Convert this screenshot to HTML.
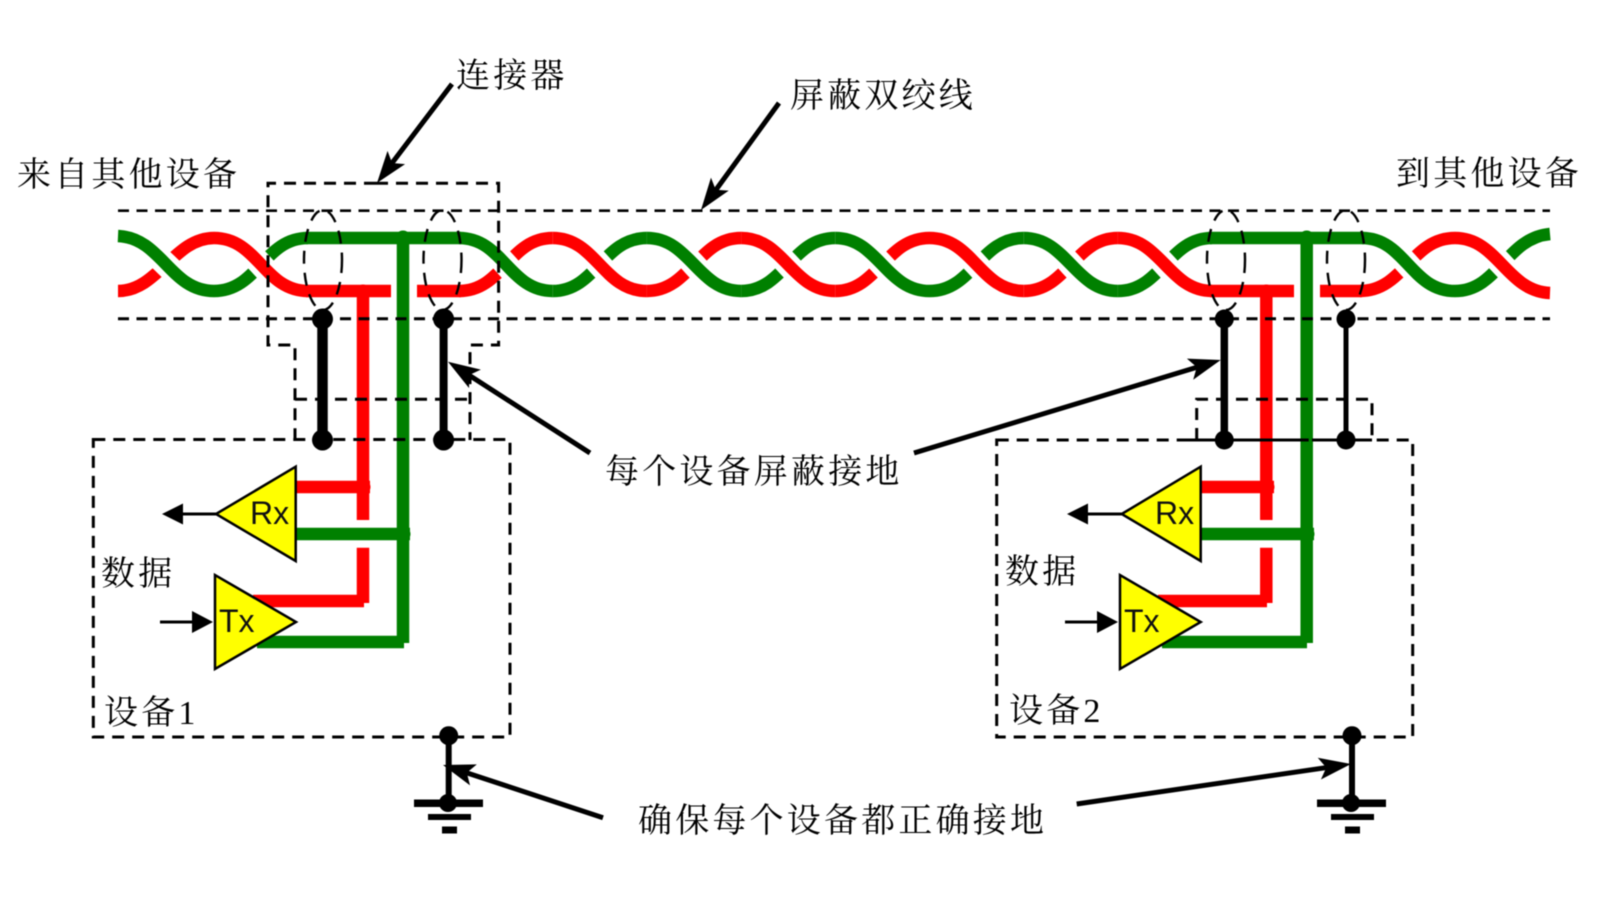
<!DOCTYPE html>
<html><head><meta charset="utf-8"><style>
html,body{margin:0;padding:0;background:#fff;width:1616px;height:903px;overflow:hidden}
svg{display:block;filter:blur(.55px)}
text.c{font-family:"Liberation Serif","Noto Serif CJK SC",serif;font-size:34px;letter-spacing:3.2px;fill:#000}
text.s{font-family:"Liberation Sans",sans-serif;font-size:32px;fill:#111}
.w{fill:none;stroke-width:12.5}
.r{stroke:#f00}.g{stroke:#008000}
.cas{fill:none;stroke:#fff;stroke-width:24}
.d{fill:none;stroke:#000;stroke-width:3;stroke-dasharray:12 8}
.d2{fill:none;stroke:#000;stroke-width:2.6;stroke-dasharray:11 7.5}
.e{fill:none;stroke:#000;stroke-width:2.4;stroke-dasharray:13 9}
.t{fill:#ff0;stroke:#000;stroke-width:2.5;stroke-linejoin:miter}
</style></head><body>
<svg width="1616" height="903" viewBox="0 0 1616 903" xmlns="http://www.w3.org/2000/svg">
<defs><polygon id="h" points="0,0 -32,-11 -25,0 -32,11" fill="#000"/></defs>
<rect width="1616" height="903" fill="#fff"/>

<!-- rising (under) segments -->
<g class="w">
<path class="w r" d="M118 291C158 291 174 238 214 238"/>
<path class="w g" d="M214 291C258 291 264 238 308 238"/>
<path class="w r" d="M459 291C503 291 509 238 552.7 238"/>
<path class="w g" d="M552.7 291C596 291 603 238 646.9 238"/>
<path class="w r" d="M646.9 291C690 291 698 238 741.1 238"/>
<path class="w g" d="M741.1 291C784 291 792 238 835.3 238"/>
<path class="w r" d="M835.3 291C878 291 886 238 929.5 238"/>
<path class="w g" d="M929.5 291C973 291 980 238 1023.7 238"/>
<path class="w r" d="M1023.7 291C1067 291 1075 238 1117.9 238"/>
<path class="w g" d="M1117.9 291C1161 291 1169 238 1212 238"/>
<path class="w r" d="M1360 291C1404 291 1411 238 1455 238"/>
<path class="w g" d="M1455 291C1498 291 1506 238 1550 234"/>
</g>
<!-- white casing around descending segments -->
<g>
<path class="cas" d="M124 240C158 240 174 289 208 289"/>
<path class="cas" d="M220 240C258 240 264 289 302 289"/>
<path class="cas" d="M465 240C503 240 509 289 546 289"/>
<path class="cas" d="M559 240C596 240 603 289 640 289"/>
<path class="cas" d="M653 240C690 240 698 289 734 289"/>
<path class="cas" d="M747 240C784 240 792 289 829 289"/>
<path class="cas" d="M841 240C878 240 886 289 923 289"/>
<path class="cas" d="M935 240C973 240 980 289 1017 289"/>
<path class="cas" d="M1030 240C1067 240 1075 289 1111 289"/>
<path class="cas" d="M1124 240C1161 240 1169 289 1205 289"/>
<path class="cas" d="M1368 240C1404 240 1411 289 1449 289"/>
<path class="cas" d="M1461 240C1498 240 1506 289 1544 289"/>
</g>
<!-- descending (over) segments -->
<g>
<path class="w g" d="M118 236C162 238 170 291 214 291"/>
<path class="w r" d="M214 238C258 238 264 291 308 291"/>
<path class="w g" d="M459 238C503 238 509 291 552.7 291"/>
<path class="w r" d="M552.7 238C596 238 603 291 646.9 291"/>
<path class="w g" d="M646.9 238C690 238 698 291 741.1 291"/>
<path class="w r" d="M741.1 238C784 238 792 291 835.3 291"/>
<path class="w g" d="M835.3 238C878 238 886 291 929.5 291"/>
<path class="w r" d="M929.5 238C973 238 980 291 1023.7 291"/>
<path class="w g" d="M1023.7 238C1067 238 1075 291 1117.9 291"/>
<path class="w r" d="M1117.9 238C1161 238 1169 291 1212 291"/>
<path class="w g" d="M1362 238C1405 238 1411 291 1455 291"/>
<path class="w r" d="M1455 238C1498 238 1506 291 1550 293"/>
</g>

<!-- flats -->
<path class="w r" d="M306 291H391M417 291H461"/>
<path class="w g" d="M306 238H461"/>
<path class="w r" d="M1210 291H1294M1320 291H1362"/>
<path class="w g" d="M1210 238H1364"/>

<!-- device 1 wires -->
<path class="w r" style="stroke-width:12.5" d="M363 291V520M363 547.7V603M253 601H364M296 487H370"/>
<path class="w g" style="stroke-width:12.5" d="M403 238V643M257 642H404M296 534H410"/>
<circle cx="363" cy="291" r="6.5" fill="#f00"/><circle cx="403" cy="238" r="7.5" fill="#008000"/>
<circle cx="364" cy="487" r="6.5" fill="#f00"/><circle cx="404" cy="534" r="6.5" fill="#008000"/>

<!-- device 2 wires -->
<path class="w r" style="stroke-width:12.5" d="M1266.3 291V520M1266.3 547.7V603M1158 601H1267M1201 487H1274"/>
<path class="w g" style="stroke-width:12.5" d="M1306.7 238V643M1162 642H1307M1201 534H1314"/>
<circle cx="1266.3" cy="291" r="6.5" fill="#f00"/><circle cx="1306.7" cy="238" r="7.5" fill="#008000"/>
<circle cx="1268" cy="487" r="6.5" fill="#f00"/><circle cx="1308" cy="534" r="6.5" fill="#008000"/>

<!-- dashed cable shield -->
<path class="d2" d="M118 210.7H1550"/>
<path class="d2" style="stroke-width:3" d="M118 318.7H1550"/>
<!-- connector outline -->
<path class="d" d="M376 183.3H498.6V345H470V440M376 183.3H268V345H295V440"/>
<path class="d" d="M295 399.3H470"/>
<!-- device boxes -->
<rect class="d" x="93.3" y="439.5" width="416.7" height="297.5"/>
<rect class="d" x="996.7" y="440" width="416" height="297"/>
<path class="d" d="M1196.7 440V399.3H1372V440"/>
<path d="M1183 440H1305" stroke="#000" stroke-width="3"/><path d="M1312 440H1372" stroke="#000" stroke-width="3"/>

<!-- ellipses -->
<ellipse class="e" cx="323" cy="260" rx="19" ry="50"/>
<ellipse class="e" cx="442.5" cy="260" rx="19" ry="50"/>
<ellipse class="e" cx="1226" cy="260" rx="19" ry="50"/>
<ellipse class="e" cx="1346" cy="260" rx="19" ry="50"/>

<!-- black shield drains -->
<path d="M322.5 319V440" stroke="#000" stroke-width="10.5"/>
<path d="M443.6 319V440" stroke="#000" stroke-width="8"/>
<path d="M1224.3 319V440" stroke="#000" stroke-width="7.5"/>
<path d="M1346 319V440" stroke="#000" stroke-width="5"/>
<g fill="#000">
<circle cx="322.5" cy="319" r="10.5"/><circle cx="322.5" cy="440" r="10.5"/>
<circle cx="443.6" cy="319" r="10.5"/><circle cx="443.6" cy="440" r="10.5"/>
<circle cx="1224.3" cy="319" r="9.5"/><circle cx="1224.3" cy="440" r="9.5"/>
<circle cx="1346" cy="319" r="9.5"/><circle cx="1346" cy="440" r="9.5"/>
</g>

<!-- triangles -->
<polygon class="t" points="216,514 295.7,466.7 295.7,561"/>
<polygon class="t" points="215,575 215,669 296,622"/>
<polygon class="t" points="1121.7,514 1200.7,466.7 1200.7,561"/>
<polygon class="t" points="1120,575 1120,669 1200.7,622"/>
<text class="s" x="250" y="524">Rx</text>
<text class="s" x="219" y="632">Tx</text>
<text class="s" x="1155" y="524">Rx</text>
<text class="s" x="1124" y="632">Tx</text>

<!-- data arrows -->
<path d="M216 514H180M160 622H195M1121.7 514H1085M1065 622H1100" stroke="#000" stroke-width="3"/>
<polygon points="162,514 183,503.5 183,524.5"/>
<polygon points="213,622 192,611 192,633"/>
<polygon points="1067,514 1088,503.5 1088,524.5"/>
<polygon points="1118,622 1097,611 1097,633"/>

<!-- grounds -->
<g fill="#000">
<path d="M448.7 736V803" stroke="#000" stroke-width="6"/>
<circle cx="448.7" cy="735.7" r="9.5"/><circle cx="448" cy="803" r="9"/>
<rect x="414" y="799.5" width="69" height="7.5"/><rect x="428" y="814" width="43" height="6"/><rect x="442" y="826.5" width="15" height="7"/>
<path d="M1352 736V803" stroke="#000" stroke-width="6"/>
<circle cx="1352" cy="735.7" r="9.5"/><circle cx="1351" cy="803" r="9"/>
<rect x="1317" y="799.5" width="69" height="7.5"/><rect x="1331" y="814" width="43" height="6"/><rect x="1345" y="826.5" width="15" height="7"/>
</g>

<!-- callout arrows -->
<g stroke="#000" stroke-width="5">
<path d="M452 84L386 171"/>
<path d="M779 103L710 198"/>
<path d="M590 453L461 370"/>
<path d="M914 453L1206 364.5"/>
<path d="M603 817.7L457 769.6"/>
<path d="M1076.7 804L1336 766.2"/>
</g>
<use href="#h" transform="translate(377 183) rotate(127.1)"/>
<use href="#h" transform="translate(701 210) rotate(126.1)"/>
<use href="#h" transform="translate(448 361.7) rotate(212.5)"/>
<use href="#h" transform="translate(1220.7 360) rotate(-16.7)"/>
<use href="#h" transform="translate(443 765) rotate(198)"/>
<use href="#h" transform="translate(1351 764) rotate(-8.3)"/>

<!-- labels -->
<text class="c" x="17" y="186">来自其他设备</text>
<text class="c" x="1396" y="185">到其他设备</text>
<text class="c" x="456" y="87">连接器</text>
<text class="c" x="790" y="107">屏蔽双绞线</text>
<text class="c" x="605" y="483">每个设备屏蔽接地</text>
<text class="c" x="638" y="832">确保每个设备都正确接地</text>
<text class="c" x="101" y="585">数据</text>
<text class="c" x="1005" y="583">数据</text>
<text class="c" x="104" y="724">设备1</text>
<text class="c" x="1009" y="722">设备2</text>
</svg>
</body></html>
